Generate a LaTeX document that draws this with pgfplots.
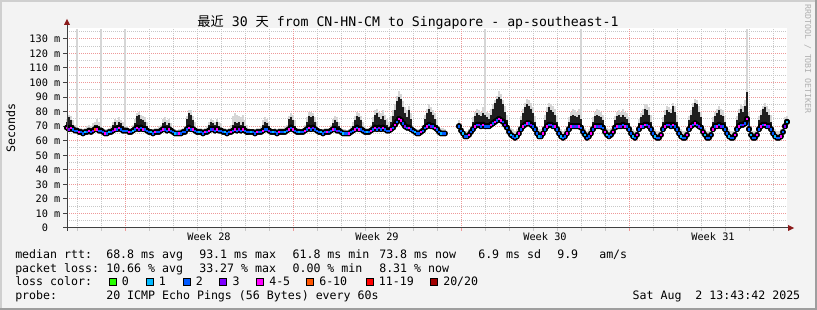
\documentclass[border=0pt]{standalone}
\usepackage{pgfplots}
\pgfplotsset{compat=1.18}
\usepackage{pgfplotstable}
\usepackage{fontspec}
\newfontfamily\mono{DejaVu Sans Mono}
\newfontfamily\cjk{Noto Sans CJK SC}
\newcommand{\leg}{\mono\fontsize{8.7}{10}\selectfont\frenchspacing}
\newcommand{\axf}{\mono\fontsize{7.7}{9}\selectfont}
\newcommand{\ttl}{\mono\fontsize{9.9}{12}\selectfont\frenchspacing}
\newcommand{\wmf}{\mono\fontsize{6.2}{7}\selectfont}
\definecolor{bgc}{HTML}{F3F3F3}
\definecolor{shA}{HTML}{CFCFCF}
\definecolor{shB}{HTML}{9E9E9E}
\definecolor{gmin}{HTML}{C8C8C8}
\definecolor{gmaj}{HTML}{EE9999}
\definecolor{smoke}{HTML}{D6D6D6}
\definecolor{dark}{HTML}{1E1E1E}
\definecolor{axc}{HTML}{404040}
\definecolor{arc}{HTML}{8B1A1A}
\definecolor{c0}{HTML}{26FF00}
\definecolor{c1}{HTML}{00B8FF}
\definecolor{c2}{HTML}{0059FF}
\definecolor{c3}{HTML}{7E00FF}
\definecolor{c4}{HTML}{FF00FF}
\definecolor{c5}{HTML}{FF5500}
\definecolor{c6}{HTML}{FF0000}
\definecolor{c7}{HTML}{A10000}
\definecolor{wm}{HTML}{B0B0B0}

\pgfplotstableread{
h med hi dk c
0 69 75 73 4
2 68 78 76 3
4 69 77 74 4
6 68 74 71 2
8 67 71 67 2
10 67 137 67 2
12 66 69 66 4
14 66 69 66 2
16 65 68 65 2
18 66 69 66 1
20 66 70 66 2
22 67 71 67 4
24 66 70 66 2
26 67 72 67 3
28 68 73 71 5
30 68 75 71 4
32 67 73 70 2
34 67 137 69 2
36 66 69 66 2
38 65 68 65 4
40 65 68 65 2
42 66 69 66 1
44 66 70 66 2
46 67 73 71 3
48 68 75 73 4
50 68 74 71 2
52 69 76 73 4
54 68 74 72 2
56 67 73 70 2
58 67 137 68 2
60 67 70 67 2
62 66 69 66 4
64 66 69 66 2
66 67 71 67 1
68 68 75 72 2
70 69 79 77 4
72 68 80 78 3
74 69 78 75 2
76 68 77 74 4
78 68 76 73 2
80 67 73 70 2
82 66 69 66 2
84 66 68 66 1
86 65 68 65 2
88 66 69 66 4
90 66 69 66 2
92 66 70 66 2
94 67 71 67 3
96 68 75 72 4
98 68 76 73 2
100 67 74 71 2
102 68 75 72 4
104 67 72 69 2
106 66 69 66 2
108 65 68 65 1
110 65 67 65 2
112 65 68 65 4
114 65 68 65 2
116 66 69 66 2
118 66 70 66 2
120 68 77 75 2
122 69 81 79 4
124 68 81 78 2
126 68 77 74 4
128 67 73 69 2
130 66 69 66 2
132 66 69 66 1
134 66 69 66 2
136 65 68 65 2
138 66 69 66 4
140 66 70 66 2
142 67 73 71 4
144 68 75 73 2
146 68 74 72 3
148 67 73 71 2
150 68 75 73 4
152 67 73 70 2
154 67 72 69 2
156 66 69 66 2
158 66 69 66 1
160 65 68 65 2
162 66 69 66 2
164 66 71 66 4
166 67 77 71 2
168 68 79 73 4
170 67 78 72 2
172 68 77 73 3
174 67 76 71 2
176 68 78 73 4
178 67 74 70 2
180 66 71 67 2
182 66 69 66 2
184 66 68 66 1
186 66 68 66 2
188 65 68 65 2
190 66 69 66 4
192 66 69 66 2
194 66 70 66 2
196 67 74 71 4
198 68 76 73 2
200 68 75 72 2
202 67 73 70 3
204 66 69 66 2
206 66 68 66 1
208 66 69 66 2
210 65 68 65 2
212 66 69 66 4
214 66 69 66 2
216 66 69 66 2
218 66 70 66 1
220 67 71 67 2
222 68 77 75 4
224 69 79 76 2
226 68 78 74 4
228 67 74 70 2
230 66 69 66 2
232 66 69 66 1
234 66 68 66 2
236 66 69 66 2
238 67 71 67 4
240 68 76 73 2
242 69 80 77 4
244 68 80 76 2
246 69 79 77 3
248 68 76 73 2
250 67 73 69 2
252 66 69 66 2
254 66 68 66 1
256 65 68 65 2
258 66 69 66 2
260 66 69 66 4
262 66 69 66 2
264 67 71 67 2
266 68 75 72 4
268 68 77 74 2
270 67 76 73 3
272 67 73 70 2
274 66 69 66 2
276 65 68 65 1
278 65 68 65 2
280 65 67 65 2
282 65 68 65 4
284 66 70 66 2
286 67 73 70 2
288 68 77 74 4
290 69 80 77 2
292 68 79 76 4
294 68 77 74 2
296 67 73 69 2
298 66 70 66 2
300 66 69 66 1
302 66 69 66 2
304 67 71 67 4
306 68 76 73 2
308 69 81 78 4
310 68 82 79 2
312 69 80 76 3
314 68 79 75 2
316 69 81 77 4
318 68 78 74 2
320 67 75 71 2
322 67 73 69 2
324 68 77 73 4
326 69 81 77 2
328 71 85 81 4
330 73 91 87 2
332 75 94 90 4
334 74 92 89 4
336 72 87 83 2
338 70 83 79 3
340 69 81 76 2
342 69 84 81 4
344 68 79 75 2
346 67 71 67 2
348 66 69 66 1
350 65 68 65 2
352 65 68 65 2
354 66 69 66 4
356 67 71 67 2
358 69 78 75 2
360 70 82 79 4
362 71 85 82 2
364 70 83 80 3
366 70 81 78 2
368 69 79 75 4
370 68 75 71 2
372 66 70 66 2
374 65 69 65 1
376 65 69 65 2
378 65 68 65 2
}\dataA

\pgfplotstableread{
h med hi dk c
392 70 74 71 2
394 67 71 67 2
396 65 69 65 1
398 63 67 63 2
400 63 67 63 2
402 64 68 64 4
404 66 70 66 2
406 68 76 73 2
408 70 80 77 4
410 71 82 79 2
412 71 81 78 3
414 70 80 77 2
416 71 83 79 4
418 70 137 78 2
420 70 80 76 2
422 70 79 75 2
424 71 82 78 4
426 72 85 82 2
428 73 88 86 4
430 74 91 89 2
432 75 94 90 4
434 74 92 89 4
436 73 88 85 2
438 71 84 80 3
440 69 78 74 2
442 66 71 66 2
444 64 69 64 1
446 63 68 63 2
448 62 67 62 2
450 63 68 63 1
452 65 70 65 4
454 68 77 74 2
456 70 82 79 4
458 71 86 83 2
460 72 89 85 4
462 72 88 84 2
464 71 86 82 3
466 70 83 79 2
468 68 77 73 2
470 65 70 65 2
472 63 68 63 1
474 63 68 63 2
476 65 70 65 4
478 68 78 74 2
480 70 83 80 4
482 71 86 83 2
484 71 85 81 3
486 70 84 80 2
488 70 82 78 4
490 68 77 73 2
492 65 70 65 2
494 63 68 63 1
496 62 67 62 2
498 63 68 63 2
500 65 70 65 4
502 68 76 73 2
504 70 80 77 4
506 70 82 78 2
508 70 81 77 3
510 70 80 76 2
512 70 82 78 4
514 69 137 75 2
516 66 71 66 2
518 64 69 64 1
520 62 67 62 2
522 63 68 63 2
524 65 70 65 4
526 68 76 73 2
528 70 80 77 4
530 70 82 78 2
532 70 81 77 3
534 70 80 76 2
536 69 78 74 2
538 66 71 66 4
540 64 69 64 1
542 63 68 63 2
544 64 69 64 2
546 66 71 66 4
548 69 77 74 2
550 70 80 77 4
552 70 81 78 2
554 70 80 76 3
556 71 82 78 2
558 70 80 76 4
560 70 79 75 2
562 68 76 72 2
564 65 70 65 2
566 63 68 63 1
568 62 67 62 2
570 64 69 64 4
572 68 75 72 2
574 70 79 76 4
576 70 82 78 2
578 71 85 82 4
580 71 85 81 2
582 70 83 78 3
584 68 78 73 2
586 65 70 65 2
588 63 68 63 1
590 62 67 62 2
592 62 67 62 2
594 64 69 64 4
596 68 76 73 2
598 70 81 78 4
600 71 84 81 2
602 71 83 80 3
604 70 82 79 2
606 71 86 84 4
608 70 84 80 2
610 68 78 73 2
612 65 70 65 2
614 63 68 63 1
616 62 67 62 2
618 62 67 62 2
620 64 69 64 4
622 68 77 74 2
624 70 81 78 4
626 71 86 83 2
628 72 89 86 4
630 71 88 85 2
632 70 84 80 3
634 69 80 76 2
636 66 71 66 4
638 64 69 64 1
640 62 67 62 2
642 62 67 62 2
644 64 69 64 2
646 68 76 73 4
648 70 80 77 2
650 70 82 79 4
652 71 84 81 2
654 70 82 78 3
656 70 81 77 2
658 68 77 73 2
660 65 70 65 2
662 63 68 63 1
664 62 67 62 2
666 62 67 62 2
668 64 69 64 4
670 68 77 74 2
672 70 82 79 4
674 71 85 82 2
676 71 84 80 3
678 72 88 84 2
680 75 137 93.6 4
682 68 80 75 2
684 64 69 64 1
686 62 67 62 2
688 62 67 62 2
690 64 69 64 4
692 68 77 74 2
694 70 81 78 4
696 71 84 82 2
698 71 86 83 4
700 70 84 80 2
702 70 82 78 3
704 68 78 73 2
706 65 70 65 2
708 63 68 63 1
710 62 67 62 2
712 62 67 62 2
714 63 68 63 4
716 66 71 66 2
718 70 76 72 3
720 73 77 74 1
}\dataB

\newcommand{\cls}[3]{% table, class number, colour
\addplot[only marks, mark=square*, mark size=0.55pt, #3, mark options={draw=none, fill=#3}, forget plot,
  restrict expr to domain={\thisrow{c}}{#2:#2}]
  table[x=h, y=med] {#1};
}
\newcommand{\layers}[1]{%
\addplot[only marks, mark=none, forget plot, error bars/.cd, y dir=both, y explicit, error mark=none,
  error bar style={smoke, line width=1.5pt, solid}]
  table[x=h, y=med, y error plus expr=\thisrow{hi}-\thisrow{med}, y error minus expr=1.5] {#1};
\addplot[only marks, mark=none, forget plot,
  restrict expr to domain={\thisrow{dk}-\thisrow{med}}{0.5:100},
  error bars/.cd, y dir=plus, y explicit, error mark=none,
  error bar style={dark, line width=0.8pt, solid}]
  table[x=h, y=med, y error plus expr=\thisrow{dk}-\thisrow{med}] {#1};
\addplot[c2, line width=1pt, mark=none, forget plot] table[x=h, y=med] {#1};
\cls{#1}{1}{c1}
\cls{#1}{2}{c2}
\cls{#1}{3}{c3}
\cls{#1}{4}{c4}
\cls{#1}{5}{c5}
}

\begin{document}
\begin{tikzpicture}[x=0.75pt,y=0.75pt]
% background and frame
\fill[bgc] (0,0) rectangle (817,310);
\fill[shA] (0,0) rectangle (2,310);
\fill[shA] (0,308) rectangle (817,310);
\fill[shB] (815,0) rectangle (817,310);
\fill[shB] (0,0) rectangle (817,2);
% canvas
\fill[white] (67,82) rectangle (787,282);
% grid
\foreach \v in {5,15,...,135}
  \draw[gmin, line width=0.75pt, dash pattern=on 0.75pt off 0.75pt] (67,{82+\v*1.454545}) -- (787,{82+\v*1.454545});
\foreach \k in {0,...,29}
  \draw[gmin, line width=0.75pt, dash pattern=on 0.75pt off 0.75pt] ({77+24*\k},82) -- ({77+24*\k},282);
\foreach \v in {10,20,...,130}
  \draw[gmaj, line width=0.75pt, dash pattern=on 0.75pt off 0.75pt] (67,{82+\v*1.454545}) -- (787,{82+\v*1.454545});
\foreach \h in {58,226,394,562}
  \draw[gmaj, line width=0.75pt, dash pattern=on 0.75pt off 0.75pt] ({67+\h},82) -- ({67+\h},282);
% ticks
\foreach \v in {0,10,...,130}
  \draw[axc, line width=0.75pt] (63,{82+\v*1.454545}) -- (67,{82+\v*1.454545});
\foreach \k in {0,...,29}
  \draw[gmin, line width=0.75pt] ({77+24*\k},82) -- ({77+24*\k},79);
\foreach \h in {58,226,394,562}
  \draw[gmaj, line width=0.75pt] ({67+\h},82) -- ({67+\h},79);

\begin{axis}[at={(50.25pt,61.5pt)}, anchor=south west, scale only axis,
  width=540pt, height=150pt,
  xmin=0, xmax=720, ymin=0, ymax=137.5,
  axis line style={draw=none}, major tick length=0pt, minor tick length=0pt,
  clip=false,
  ytick={0,10,...,130},
  yticklabels={0\phantom{mm},10 m,20 m,30 m,40 m,50 m,60 m,70 m,80 m,90 m,100 m,110 m,120 m,130 m},
  xtick={142,310,478,646},
  xticklabels={Week 28,Week 29,Week 30,Week 31},
  ticklabel style={font=\axf},
  yticklabel style={anchor=east, inner sep=0pt, xshift=-4.8pt},
  xticklabel style={anchor=base, inner sep=0pt, yshift=-9.5pt},
]
\layers{\dataA}
\layers{\dataB}
\end{axis}

% axis lines and arrows
\draw[axc, line width=0.75pt] (63,82) -- (789,82);
\fill[arc] (788,85) -- (794,82) -- (788,79) -- cycle;
\draw[axc, line width=0.75pt] (67,79) -- (67,286);
\fill[arc] (64,285) -- (67,291) -- (70,285) -- cycle;

% title, labels, watermark
\node[anchor=base, inner sep=0pt, font=\ttl] at (408,283.5)
  {{\cjk 最近} 30 {\cjk 天} from CN-HN-CM to Singapore - ap-southeast-1};
\node[anchor=base, inner sep=0pt, rotate=90, font=\leg] at (15,182) {Seconds};
\node[anchor=base, inner sep=0pt, rotate=-90, font=\wmf, text=wm] at (805,251) {RRDTOOL / TOBI OETIKER};

% legend
\begin{scope}[every node/.style={anchor=base west, inner sep=0pt, font=\leg}]
\node at (15,51.3) {median rtt:};
\node at (106,51.3) {68.8 ms avg};
\node at (199,51.3) {93.1 ms max};
\node at (292.3,51.3) {61.8 ms min};
\node at (379,51.3) {73.8 ms now};
\node at (478,51.3) {6.9 ms sd};
\node at (557,51.3) {9.9};
\node at (599,51.3) {am/s};
\node at (15,37.3) {packet loss:};
\node at (106,37.3) {10.66 \% avg};
\node at (199,37.3) {33.27 \% max};
\node at (292.3,37.3) {0.00 \% min};
\node at (379,37.3) {8.31 \% now};
\node at (15,24) {loss color:};
\node at (121.7,24) {0};
\node at (158.7,24) {1};
\node at (195.7,24) {2};
\node at (232.3,24) {3};
\node at (269,24) {4-5};
\node at (319,24) {6-10};
\node at (378.7,24) {11-19};
\node at (443,24) {20/20};
\node at (15,10) {probe:};
\node at (106,10) {20 ICMP Echo Pings (56 Bytes) every 60s};
\node[anchor=base east] at (800.5,10) {Sat Aug~~2 13:43:42 2025};
\end{scope}
\foreach \x/\c in {108.7/c0,145.7/c1,182.7/c2,219.3/c3,256/c4,306/c5,365.7/c6,430/c7}
  \filldraw[fill=\c, draw=black, line width=0.75pt] ({\x+0.5},24.5) rectangle ({\x+7.5},31.5);

\pgfresetboundingbox
\useasboundingbox (0,0) rectangle (817,310);
\end{tikzpicture}
\end{document}
